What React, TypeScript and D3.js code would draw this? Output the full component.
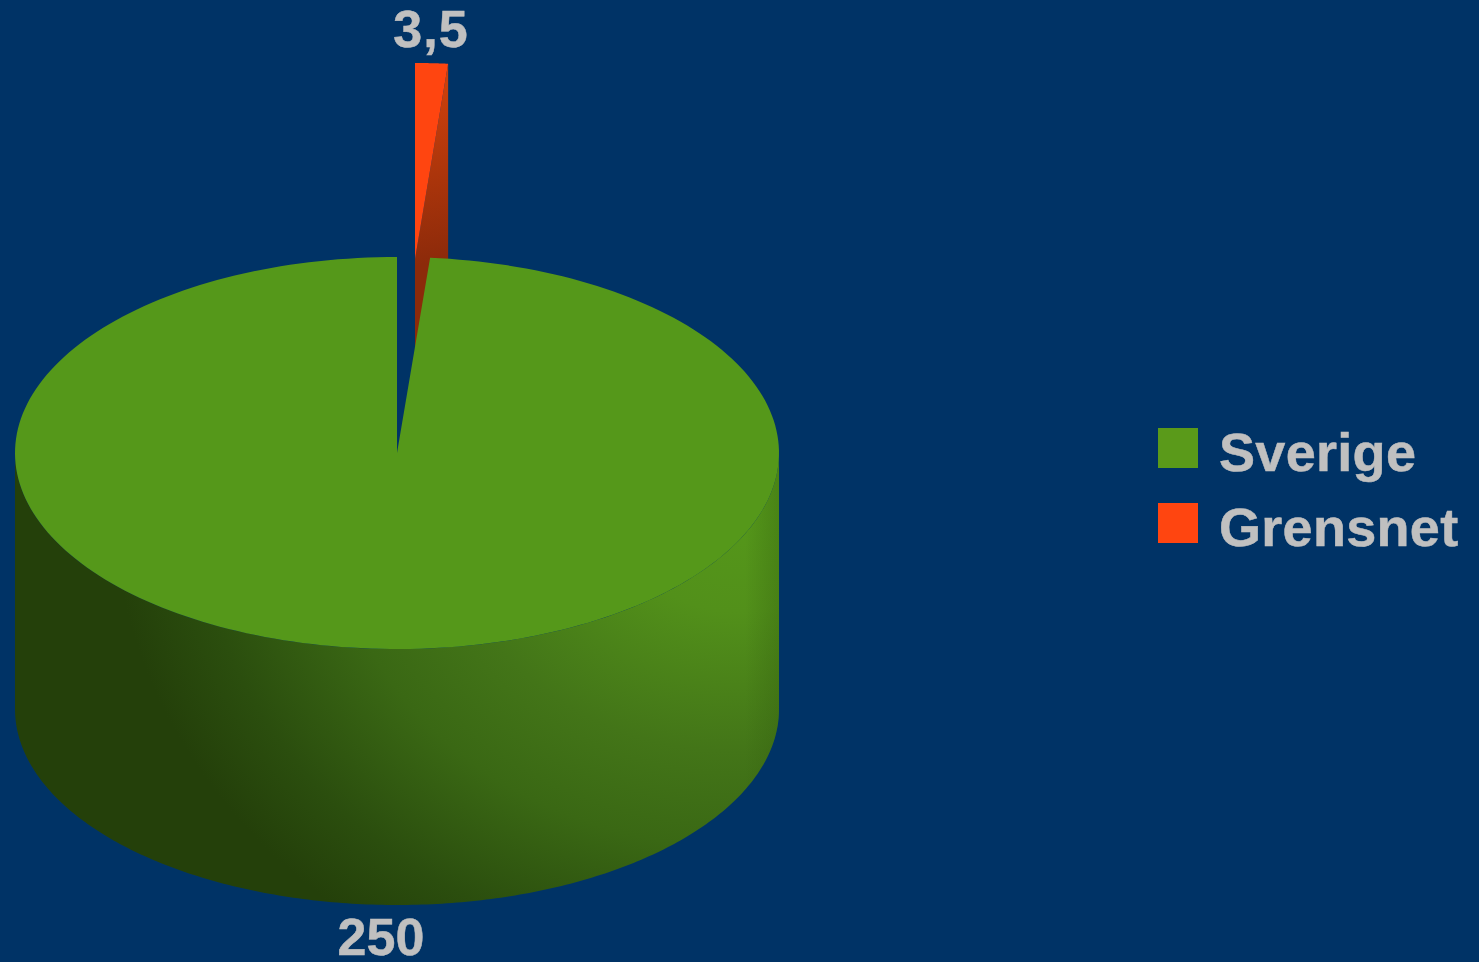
import React from "react";
import * as d3 from "d3";

const categories = ["Sverige", "Grensnet"];
const values = [250, 3.5];
const valueLabels = ["250", "3,5"];
const colors = ["#55981a", "#ff4510"];

const W = 1479, H = 962;
const CX = 397, CY = 453, RX = 382, RY = 196, DEPTH = 256;
const EXPLODE_X = 18, EXPLODE_Y = -194;
const FONT = "'Liberation Sans', Arial, sans-serif";

type P = [number, number];
const px = d3.scaleLinear().domain([-1, 1]).range([CX - RX, CX + RX]);
const py = d3.scaleLinear().domain([-1, 1]).range([CY + RY, CY - RY]);
const onRim = (t: number, dx = 0, dy = 0): P => [px(Math.sin(t)) + dx, py(Math.cos(t)) + dy];
const rim = (a: number, b: number, dx = 0, dy = 0): P[] =>
  d3.range(0, 241).map((i) => onRim(a + ((b - a) * i) / 240, dx, dy));
const line = d3.line<P>();

export default function App() {
  // smallest slice first, so the wedge starts at twelve o'clock
  const arcs = d3.pie<number>().sort((a, b) => a - b)(values);
  const g = arcs[0], o = arcs[1];

  const greenTop: P[] = [[CX, CY], ...rim(g.startAngle, g.endAngle)];
  const wall: P[] = [...rim(Math.PI / 2, (3 * Math.PI) / 2), ...rim((3 * Math.PI) / 2, Math.PI / 2, 0, DEPTH)];
  const apex: P = [CX + EXPLODE_X, CY + EXPLODE_Y];
  const orangeTop: P[] = [apex, ...rim(o.startAngle, o.endAngle, EXPLODE_X, EXPLODE_Y)];
  const edge = onRim(o.endAngle, EXPLODE_X, EXPLODE_Y);
  const orangeCut: P[] = [apex, edge, [edge[0], edge[1] + DEPTH], [apex[0], apex[1] + DEPTH]];

  const legendX = 1158, legendY = [428, 503], swatch = 40;

  return (
    <svg width={W} height={H} viewBox={`0 0 ${W} ${H}`}
      style={{ position: "fixed", left: 0, top: 0, display: "block", background: "#003366" }}>
      <defs>
        <radialGradient id="wallLight" gradientUnits="userSpaceOnUse" cx={0} cy={0} r={1}
          gradientTransform="translate(740 500) scale(660 560)">
          <stop offset="0" stopColor="#55981a" />
          <stop offset="0.2" stopColor="#52901a" />
          <stop offset="0.45" stopColor="#437518" />
          <stop offset="0.62" stopColor="#3a6814" />
          <stop offset="0.82" stopColor="#2b4e0e" />
          <stop offset="0.95" stopColor="#24400a" />
        </radialGradient>
        <linearGradient id="wallEdge" gradientUnits="userSpaceOnUse" x1={745} x2={779} y1={0} y2={0}>
          <stop offset="0" stopColor="#2f5a0c" stopOpacity={0} />
          <stop offset="1" stopColor="#2f5a0c" stopOpacity={0.3} />
        </linearGradient>
        <linearGradient id="cut" gradientUnits="userSpaceOnUse" x1={415} x2={447} y1={90} y2={260}>
          <stop offset="0" stopColor="#cc400c" />
          <stop offset="1" stopColor="#8c2a0a" />
        </linearGradient>
      </defs>
      <rect width={W} height={H} fill="#003366" />

      <path d={line(orangeCut) + "Z"} fill="url(#cut)" />
      <path d={line(orangeTop) + "Z"} fill={colors[1]} />

      <path d={line(wall) + "Z"} fill="url(#wallLight)" />
      <path d={line(wall) + "Z"} fill="url(#wallEdge)" />
      <path d={line(greenTop) + "Z"} fill={colors[0]} />

      <g fontFamily={FONT} fontWeight="bold" fill="#c0c0c0" stroke="#c0c0c0" strokeWidth={0.5}>
        <text x={381} y={955} fontSize={52} textAnchor="middle">{valueLabels[0]}</text>
        <text x={431} y={47} fontSize={52} letterSpacing={1} textAnchor="middle">{valueLabels[1]}</text>
        {categories.map((c, i) => (
          <g key={c}>
            <rect x={legendX} y={legendY[i]} width={swatch} height={swatch} stroke="none"
              fill={i === 0 ? "#5a9a1a" : colors[1]} />
            <text x={1219} y={legendY[i] + 43} fontSize={54} letterSpacing={0.3}>{c}</text>
          </g>
        ))}
      </g>
    </svg>
  );
}
